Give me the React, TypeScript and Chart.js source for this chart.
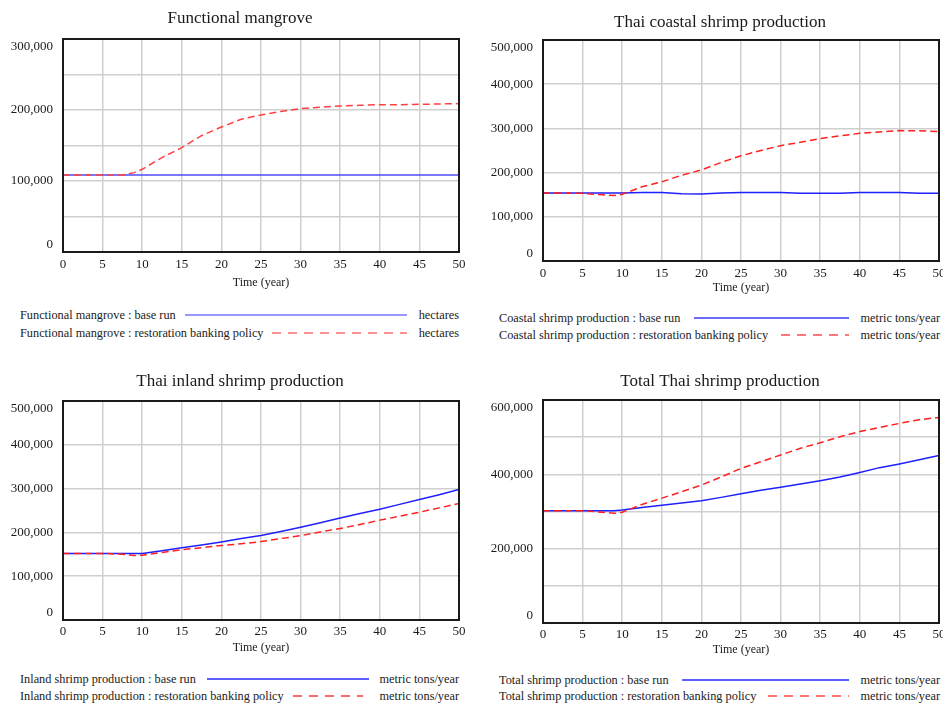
import React, { useEffect, useRef } from 'react';
import { Chart, registerables } from 'chart.js';

Chart.register(...registerables);

// ---------- DATA ----------
const TIME = [0, 2.5, 5, 7.5, 9, 10, 12.5, 15, 17.5, 20, 22.5, 25, 27.5, 30, 32.5, 35, 37.5, 40, 42.5, 45, 47.5, 50];

const MANGROVE_BASE = [108500, 108500, 108500, 108500, 108500, 108500, 108500, 108500, 108500, 108500, 108500, 108500, 108500, 108500, 108500, 108500, 108500, 108500, 108500, 108500, 108500, 108500];
const MANGROVE_POLICY = [108500, 108500, 108500, 108500, 111800, 116500, 133000, 147000, 164000, 176000, 187000, 193000, 198000, 202000, 204000, 205700, 206600, 207500, 207500, 208000, 208500, 209000];

const COASTAL_BASE = [154000, 154000, 154000, 154000, 154000, 154000, 155000, 155000, 152000, 151500, 154000, 155000, 155000, 155000, 153000, 153000, 153000, 155000, 155000, 155000, 153000, 153000];
const COASTAL_POLICY = [154000, 154000, 153000, 150000, 148000, 151000, 168000, 179000, 194000, 206000, 223000, 238000, 250000, 261000, 268500, 277000, 283000, 289000, 292000, 295000, 294500, 293000];

const INLAND_BASE = [152000, 152000, 152000, 152000, 152000, 152000, 158000, 165000, 171000, 178000, 186000, 193000, 202000, 212000, 222000, 233000, 243000, 253000, 264000, 275000, 286000, 298000];
const INLAND_POLICY = [152000, 152000, 152000, 150000, 147000, 148000, 154000, 160500, 165000, 170000, 174000, 179000, 186000, 192500, 201000, 209000, 218000, 228000, 237000, 246000, 256000, 266000];

const TOTAL_BASE = [302000, 302000, 302000, 302000, 302000, 304000, 311000, 317000, 323000, 329000, 338000, 348000, 357000, 365000, 374000, 383000, 393000, 405000, 418000, 428000, 439000, 451000];
const TOTAL_POLICY = [302000, 302000, 302000, 298000, 295000, 298000, 319000, 336000, 353000, 371000, 393000, 416000, 434000, 452000, 470000, 485000, 501000, 515000, 526000, 537000, 547000, 553000];

const TITLES = ['Functional mangrove', 'Thai coastal shrimp production', 'Thai inland shrimp production', 'Total Thai shrimp production'];
const SERIES_NAMES = ['Functional mangrove', 'Coastal shrimp production', 'Inland shrimp production', 'Total shrimp production'];
const RUN_NAMES = ['base run', 'restoration banking policy'];
const UNITS = ['hectares', 'metric tons/year', 'metric tons/year', 'metric tons/year'];
const X_TITLE = 'Time (year)';
const Y_MAX = [300000, 500000, 500000, 600000];
const Y_STEP = [50000, 100000, 100000, 100000];
const Y_LABEL_STEP = [100000, 100000, 100000, 200000];

// ---------- STYLE / LAYOUT ----------
const SERIF = "'Liberation Serif', 'Times New Roman', 'DejaVu Serif', serif";
const TEXT = '#1a1a1a';
const GRID = '#cfcfcf';

// canvas x-range is chosen so the (full-width) title centre sits where the reference has it;
// an invisible right-hand spacer axis puts the plot's right edge in place.
const PANELS = [
  {
    base: MANGROVE_BASE, policy: MANGROVE_POLICY,
    canvas: { left: 0, top: 0, width: 480, height: 295 }, yAxisW: 63, rightW: 21,
    titleTop: 8, titleBottom: 10.6, xAxisH: 43, tickPad: 5,
    blue: '#4d4dff', red: '#ff4040', legBlue: '#7474ff', legRed: '#ff7070',
    leg: { textX: 20, unitRight: 459, y1: 315, y2: 333, line1: [185, 407], line2: [272, 407] },
  },
  {
    base: COASTAL_BASE, policy: COASTAL_POLICY,
    canvas: { left: 470, top: 0, width: 500, height: 300 }, yAxisW: 73, rightW: 31,
    titleTop: 12, titleBottom: 7.6, xAxisH: 39, tickPad: 5,
    blue: '#1f1fff', red: '#ff2020', legBlue: '#3a3aff', legRed: '#ff4a4a',
    leg: { textX: 499, unitRight: 940, y1: 318, y2: 335, line1: [694, 849], line2: [781, 849] },
  },
  {
    base: INLAND_BASE, policy: INLAND_POLICY,
    canvas: { left: 0, top: 350, width: 480, height: 310 }, yAxisW: 63, rightW: 21,
    titleTop: 21.5, titleBottom: 9.1, xAxisH: 40, tickPad: 3.5,
    blue: '#1f1fff', red: '#ff2020', legBlue: '#2a2aff', legRed: '#ff3a3a',
    leg: { textX: 20, unitRight: 459, y1: 679, y2: 696, line1: [207, 369], line2: [293, 363] },
  },
  {
    base: TOTAL_BASE, policy: TOTAL_POLICY,
    canvas: { left: 470, top: 350, width: 500, height: 312 }, yAxisW: 73, rightW: 31,
    titleTop: 21.5, titleBottom: 8.1, xAxisH: 39, tickPad: 3.5,
    blue: '#1f1fff', red: '#ff2020', legBlue: '#2a2aff', legRed: '#ff4a4a',
    leg: { textX: 499, unitRight: 940, y1: 680, y2: 696, line1: [682, 849], line2: [768, 849] },
  },
];

const framePlugin = {
  id: 'frameBox',
  afterDraw(chart: any) {
    const { ctx, chartArea: a } = chart;
    ctx.save();
    ctx.strokeStyle = '#1a1a1a';
    ctx.lineWidth = 2;
    ctx.strokeRect(a.left, a.top, a.right - a.left, a.bottom - a.top);
    ctx.restore();
  },
};

function Panel({ idx }: { idx: number }) {
  const ref = useRef<HTMLCanvasElement>(null);
  const p = PANELS[idx];
  useEffect(() => {
    const yMax = Y_MAX[idx];
    const labelStep = Y_LABEL_STEP[idx];
    const chart = new Chart(ref.current as HTMLCanvasElement, {
      type: 'line',
      data: {
        datasets: [
          {
            label: `${SERIES_NAMES[idx]} : ${RUN_NAMES[1]}`,
            data: TIME.map((t, i) => ({ x: t, y: p.policy[i] })),
            borderColor: p.red,
            borderWidth: 1.5,
            borderDash: [7, 4],
            pointRadius: 0,
            tension: 0,
            fill: false,
          },
          {
            label: `${SERIES_NAMES[idx]} : ${RUN_NAMES[0]}`,
            data: TIME.map((t, i) => ({ x: t, y: p.base[i] })),
            borderColor: p.blue,
            borderWidth: 1.5,
            pointRadius: 0,
            tension: 0,
            fill: false,
          },
        ],
      },
      options: {
        animation: false,
        responsive: false,
        maintainAspectRatio: false,
        layout: { padding: 0 },
        plugins: {
          legend: { display: false },
          tooltip: { enabled: false },
          title: {
            display: true,
            text: TITLES[idx],
            color: TEXT,
            font: { family: SERIF, size: 17, weight: 'normal', lineHeight: 1.2 },
            padding: { top: p.titleTop, bottom: p.titleBottom },
          },
        },
        scales: {
          x: {
            type: 'linear',
            min: 0,
            max: 50,
            ticks: {
              stepSize: 5,
              padding: p.tickPad,
              color: TEXT,
              autoSkip: false,
              maxRotation: 0,
              font: { family: SERIF, size: 13, lineHeight: 1.2 },
            },
            grid: { color: GRID, lineWidth: 1.5, drawTicks: false },
            border: { display: false },
            title: {
              display: true,
              text: X_TITLE,
              color: TEXT,
              font: { family: SERIF, size: 12, lineHeight: 1.2 },
              padding: { top: 0, bottom: 5 },
            },
            afterFit: (s: any) => {
              s.height = p.xAxisH;
              s.paddingLeft = 0;
              s.paddingRight = 0;
            },
          },
          y: {
            type: 'linear',
            position: 'left',
            min: 0,
            max: yMax,
            ticks: {
              stepSize: Y_STEP[idx],
              padding: 10,
              color: TEXT,
              autoSkip: false,
              font: { family: SERIF, size: 13, lineHeight: 1.2 },
              callback: (v: any) => {
                const n = Number(v);
                if (n % labelStep !== 0) return '';
                const s = n.toLocaleString('en-US');
                if (n === yMax) return ['', s];
                if (n === 0) return [s, ''];
                return s;
              },
            },
            grid: { color: GRID, lineWidth: 1.5, drawTicks: false },
            border: { display: false },
            afterFit: (s: any) => {
              s.width = p.yAxisW;
              s.paddingTop = 0;
              s.paddingBottom = 0;
            },
          },
          spacer: {
            type: 'linear',
            position: 'right',
            display: true,
            grid: { display: false, drawTicks: false },
            border: { display: false },
            ticks: { display: false },
            afterFit: (s: any) => {
              s.width = p.rightW;
              s.paddingTop = 0;
              s.paddingBottom = 0;
            },
          },
        },
      } as any,
      plugins: [framePlugin],
    });
    return () => chart.destroy();
  }, [idx]);

  return (
    <canvas
      ref={ref}
      width={p.canvas.width}
      height={p.canvas.height}
      style={{
        position: 'absolute',
        left: p.canvas.left,
        top: p.canvas.top,
        width: p.canvas.width,
        height: p.canvas.height,
      }}
    />
  );
}

const legendText: React.CSSProperties = {
  position: 'absolute',
  fontFamily: SERIF,
  fontSize: 12.3,
  lineHeight: '14px',
  whiteSpace: 'nowrap',
  color: '#222',
};

export default function App() {
  return (
    <div
      style={{
        position: 'absolute',
        left: 0,
        top: 0,
        width: 943,
        height: 707,
        background: '#ffffff',
        overflow: 'hidden',
      }}
    >
      {PANELS.map((_, i) => (
        <Panel key={i} idx={i} />
      ))}
      {PANELS.map((p, i) => (
        <React.Fragment key={'leg' + i}>
          <span style={{ ...legendText, left: p.leg.textX, top: p.leg.y1 - 7.5 }}>
            {`${SERIES_NAMES[i]} : ${RUN_NAMES[0]}`}
          </span>
          <span style={{ ...legendText, left: p.leg.textX, top: p.leg.y2 - 7.5 }}>
            {`${SERIES_NAMES[i]} : ${RUN_NAMES[1]}`}
          </span>
          <span style={{ ...legendText, right: 943 - p.leg.unitRight, top: p.leg.y1 - 7.5 }}>{UNITS[i]}</span>
          <span style={{ ...legendText, right: 943 - p.leg.unitRight, top: p.leg.y2 - 7.5 }}>{UNITS[i]}</span>
        </React.Fragment>
      ))}
      <svg
        width={943}
        height={707}
        style={{ position: 'absolute', left: 0, top: 0, pointerEvents: 'none' }}
      >
        {PANELS.map((p, i) => (
          <g key={'ll' + i}>
            <line x1={p.leg.line1[0]} x2={p.leg.line1[1]} y1={p.leg.y1} y2={p.leg.y1} stroke={p.legBlue} strokeWidth={1.5} />
            <line x1={p.leg.line2[0]} x2={p.leg.line2[1]} y1={p.leg.y2} y2={p.leg.y2} stroke={p.legRed} strokeWidth={1.5} strokeDasharray="9 7" />
          </g>
        ))}
      </svg>
    </div>
  );
}
